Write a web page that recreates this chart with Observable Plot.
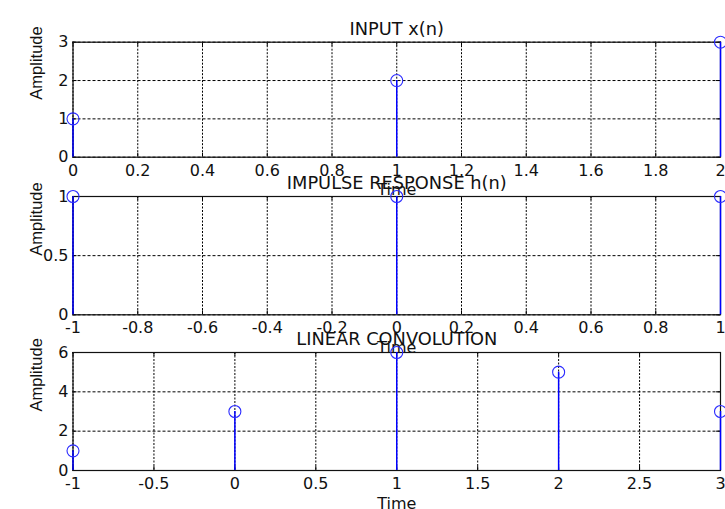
<!DOCTYPE html>
<html>
<head>
<meta charset="utf-8">
<script src="https://cdn.jsdelivr.net/npm/d3@7"></script>
<script src="https://cdn.jsdelivr.net/npm/@observablehq/plot@0.6"></script>
<style>
  html, body { margin: 0; padding: 0; background: white; }
  #wrap { position: relative; width: 725px; height: 509px; overflow: hidden; }
  #wrap > div { position: absolute; left: 0; }
</style>
</head>
<body>
<div id="wrap">
  <div id="p1" style="top:0px"></div>
  <div id="p2" style="top:160px"></div>
  <div id="p3" style="top:310px"></div>
</div>
<script>
// ---- data ----
const nX = [0, 1, 2];
const xVals = [1, 2, 3];
const nH = [-1, 0, 1];
const hVals = [1, 1, 1];
const nY = [-1, 0, 1, 2, 3];
const yVals = [1, 3, 6, 5, 3];

const titles = ["INPUT x(n)", "IMPULSE RESPONSE h(n)", "LINEAR CONVOLUTION"];
const xLabel = "Time";
const yLabel = "Amplitude";

const xTicks1 = [0, 0.2, 0.4, 0.6, 0.8, 1, 1.2, 1.4, 1.6, 1.8, 2];
const yTicks1 = [0, 1, 2, 3];
const xTicks2 = [-1, -0.8, -0.6, -0.4, -0.2, 0, 0.2, 0.4, 0.6, 0.8, 1];
const yTicks2 = [0, 0.5, 1];
const xTicks3 = [-1, -0.5, 0, 0.5, 1, 1.5, 2, 2.5, 3];
const yTicks3 = [0, 2, 4, 6];

// ---- panel builder ----
function panel({n, v, title, xDomain, yDomain, xTicks, yTicks, height, marginTop, marginBottom}) {
  const data = n.map((d, i) => ({n: d, v: v[i]}));
  const W = 725, mL = 72.5, mR = 5;
  const pw = W - mL - mR;
  const ph = height - marginTop - marginBottom;
  const fmt = d => String(d);
  return Plot.plot({
    width: W,
    height,
    marginLeft: mL,
    marginRight: mR,
    marginTop,
    marginBottom,
    style: {background: "transparent", overflow: "visible", fontFamily: "DejaVu Sans", color: "#111"},
    x: {domain: xDomain},
    y: {domain: yDomain},
    marks: [
      Plot.gridX(xTicks, {stroke: "#000", strokeOpacity: 1, strokeWidth: 1, strokeDasharray: "2,1.5"}),
      Plot.gridY(yTicks, {stroke: "#000", strokeOpacity: 1, strokeWidth: 1, strokeDasharray: "3,2"}),
      Plot.tickX(xTicks, {x: d => d, insetTop: ph - 4, stroke: "#000"}),
      Plot.tickX(xTicks, {x: d => d, insetBottom: ph - 4, stroke: "#000"}),
      Plot.tickY(yTicks, {y: d => d, insetLeft: pw - 4, stroke: "#000"}),
      Plot.tickY(yTicks, {y: d => d, insetRight: pw - 4, stroke: "#000"}),
      Plot.frame({stroke: "#111", strokeWidth: 1.2}),
      Plot.axisX(xTicks, {anchor: "bottom", tickSize: 0, tickPadding: 7, fontSize: 16, tickFormat: fmt,
        label: xLabel, labelAnchor: "center", labelArrow: "none", labelOffset: 38}),
      Plot.axisY(yTicks, {anchor: "left", tickSize: 0, tickPadding: 4.5, fontSize: 16, tickFormat: fmt, label: null}),
      Plot.text([yLabel], {frameAnchor: "left", rotate: -90, dx: -36.5, fontSize: 16.5, fontFamily: "Liberation Sans", fill: "#111"}),
      Plot.text([title], {frameAnchor: "top", dy: -20, fontSize: 17.8, fill: "#111"}),
      Plot.ruleX(data, {x: "n", y1: 0, y2: "v", stroke: "#0000ff", strokeWidth: 1.5}),
      Plot.dot(data, {x: "n", y: "v", r: 6, stroke: "#2a2aff", strokeWidth: 1.1, fill: "none"})
    ]
  });
}

document.getElementById("p1").append(panel({
  n: nX, v: xVals, title: titles[0], xDomain: [0, 2], yDomain: [0, 3],
  xTicks: xTicks1, yTicks: yTicks1, height: 200, marginTop: 41.7, marginBottom: 43.3
}));
document.getElementById("p2").append(panel({
  n: nH, v: hVals, title: titles[1], xDomain: [-1, 1], yDomain: [0, 1],
  xTicks: xTicks2, yTicks: yTicks2, height: 200, marginTop: 36, marginBottom: 45.7
}));
document.getElementById("p3").append(panel({
  n: nY, v: yVals, title: titles[2], xDomain: [-1, 3], yDomain: [0, 6],
  xTicks: xTicks3, yTicks: yTicks3, height: 199, marginTop: 42, marginBottom: 39
}));
</script>
</body>
</html>
